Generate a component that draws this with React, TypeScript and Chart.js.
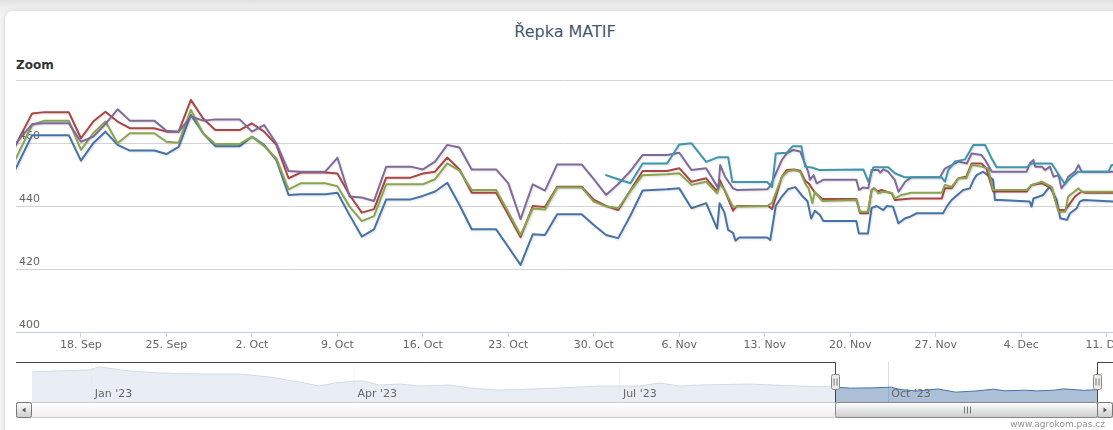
import React, { useEffect, useRef } from "react";
import { Chart, registerables } from "chart.js";

Chart.register(...registerables);

// x values are days counted from Monday 18 Sep 2023 (fractional = intraday)
const tradingDays = [-6, -5, -4, -3, -1, 0, 1, 2, 3, 4, 6, 7, 8, 9, 10, 11, 13, 14, 15, 16, 17, 18, 20, 21, 22, 23, 24, 25, 27, 28, 29, 30, 31, 32, 34, 35, 36, 37, 38, 39, 41, 42, 43, 44, 45, 46, 48, 49, 50];

const blueDaily = [446.7, 454.6, 462.5, 462.5, 462.5, 454.4, 459.9, 463.6, 459.4, 457.6, 457.6, 456.5, 458.8, 468.9, 463.1, 459.0, 459.0, 462.0, 459.4, 454.6, 443.5, 443.7, 443.7, 444.2, 437.1, 430.3, 432.6, 442.1, 442.1, 443.2, 444.6, 447.4, 440.3, 432.6, 432.6, 427.0, 421.3, 431.0, 430.8, 437.4, 437.4, 434.0, 430.8, 429.8, 437.0, 444.9, 445.3, 445.6, 439.3];
const redDaily = [454.4, 461.9, 469.4, 469.8, 469.8, 461.5, 466.8, 469.9, 466.8, 464.7, 464.7, 463.6, 463.6, 473.7, 467.8, 464.1, 464.1, 466.2, 463.6, 459.4, 448.8, 450.6, 450.6, 450.3, 443.5, 437.9, 439.0, 449.0, 449.0, 450.3, 450.9, 455.4, 451.6, 444.2, 444.2, 437.2, 430.1, 440.0, 439.7, 446.1, 446.1, 442.0, 440.0, 438.7, 445.0, 451.1, 451.1, 452.0, 447.7];
const greenDaily = [449.7, 457.7, 465.7, 467.1, 467.1, 457.8, 463.1, 466.8, 459.9, 463.1, 463.1, 460.4, 460.1, 470.5, 463.1, 459.7, 459.7, 462.0, 459.0, 455.1, 445.3, 447.2, 447.2, 446.3, 439.8, 435.2, 436.8, 446.9, 446.9, 446.9, 448.5, 453.5, 451.2, 445.1, 445.1, 438.0, 430.8, 439.2, 438.9, 445.9, 445.9, 441.4, 439.9, 439.3, 444.8, 449.8, 450.1, 450.4, 446.7];
const purpleDaily = [456.8, 461.4, 466.0, 466.3, 466.3, 460.4, 462.0, 466.0, 470.7, 467.1, 467.1, 463.9, 463.6, 468.4, 467.1, 467.5, 467.5, 463.6, 465.7, 459.9, 451.1, 450.9, 450.9, 455.3, 443.0, 442.7, 441.6, 452.5, 452.5, 451.6, 454.1, 459.4, 458.6, 451.6, 451.6, 447.2, 435.8, 446.9, 444.9, 453.2, 453.2, 448.5, 443.5, 447.0, 451.1, 456.2, 456.2, 456.9, 451.4];

const blueLateDays = [51.2, 52.1, 52.3, 52.7, 53.0, 53.4, 53.6, 53.9, 56.2, 56.45, 56.9, 57.4, 57.9, 58.5, 59.0, 59.5, 59.8, 60.1, 60.5, 60.8, 63.5, 63.7, 64.45, 64.75, 65.15, 65.7, 66.0, 66.5, 66.95, 67.5, 67.9, 68.45, 70.6, 70.9, 71.3, 72.25, 72.8, 73.1, 73.35, 73.9, 74.7, 74.85, 75.3, 77.7, 77.85, 78.0, 78.8, 79.35, 79.9, 80.2, 80.75, 81.0, 81.55, 81.8, 82.1, 84.55];
const blueLate = [440.9, 432.8, 440.9, 437.9, 432.4, 431.5, 429.0, 430.0, 430.0, 429.2, 440.0, 443.0, 445.3, 446.0, 443.5, 441.5, 436.0, 438.5, 437.2, 435.2, 435.2, 431.3, 431.3, 439.3, 440.0, 438.7, 440.0, 439.8, 434.5, 436.1, 436.6, 437.7, 437.7, 439.8, 441.9, 445.1, 445.6, 448.3, 449.8, 450.9, 448.3, 441.9, 441.9, 441.4, 439.8, 442.4, 443.5, 446.2, 441.9, 436.1, 435.6, 437.7, 439.3, 441.4, 441.9, 441.4];

const redLateDays = [51.2, 52.1, 52.3, 52.7, 53.4, 53.7, 56.3, 56.6, 57.4, 57.8, 58.4, 58.9, 59.3, 59.6, 60.1, 60.7, 63.5, 63.8, 64.45, 64.75, 64.9, 65.3, 65.55, 66.4, 66.65, 68.0, 70.5, 70.75, 71.3, 71.85, 72.5, 72.95, 73.75, 74.15, 74.7, 77.45, 77.85, 78.7, 79.5, 80.05, 80.6, 81.4, 81.95, 82.25, 84.55];
const redLate = [448.8, 444.6, 448.3, 445.1, 438.5, 440.0, 440.0, 439.0, 449.3, 451.4, 451.6, 451.2, 448.0, 447.2, 444.3, 442.2, 442.2, 437.7, 437.7, 445.1, 445.6, 444.6, 445.1, 444.0, 441.9, 442.4, 442.4, 445.6, 445.6, 448.8, 449.3, 453.5, 453.5, 451.9, 444.6, 444.6, 446.7, 447.2, 445.6, 438.7, 438.7, 443.0, 444.6, 444.2, 444.2];

const greenLateDays = [51.2, 52.1, 52.3, 52.7, 53.4, 56.2, 56.6, 57.4, 57.9, 58.4, 58.9, 59.3, 59.6, 59.9, 60.1, 60.7, 63.5, 63.8, 64.45, 64.75, 65.0, 65.3, 65.7, 66.4, 66.65, 67.2, 68.0, 70.5, 70.75, 71.3, 71.85, 72.5, 72.95, 73.75, 74.3, 74.7, 77.45, 77.85, 78.7, 79.5, 80.05, 80.6, 80.85, 81.7, 81.95, 84.55];
const greenLate = [447.7, 444.0, 447.2, 445.1, 439.8, 440.0, 441.0, 449.3, 451.0, 451.4, 450.9, 447.2, 445.5, 440.9, 444.5, 441.6, 441.9, 438.2, 438.2, 445.1, 445.6, 444.0, 444.5, 444.2, 442.4, 443.5, 444.2, 444.2, 446.7, 446.1, 448.8, 448.8, 453.0, 452.5, 451.9, 445.1, 445.1, 446.7, 447.7, 446.1, 438.2, 438.2, 443.0, 445.6, 444.5, 444.5];

const purpleLateDays = [51.2, 52.2, 52.35, 52.75, 53.4, 53.7, 56.2, 56.45, 57.4, 57.8, 58.35, 58.9, 59.55, 59.7, 60.0, 60.25, 60.8, 63.5, 63.72, 64.07, 64.48, 64.75, 65.3, 65.45, 65.7, 66.1, 66.65, 66.95, 67.5, 68.0, 70.35, 70.75, 71.3, 71.85, 72.55, 72.95, 73.75, 74.05, 74.6, 77.45, 77.7, 78.0, 78.15, 78.7, 78.95, 79.35, 79.65, 80.05, 80.3, 80.6, 80.85, 81.4, 81.7, 81.95, 84.55];
const purpleLate = [452.0, 445.6, 453.0, 449.3, 445.6, 445.1, 445.3, 446.3, 454.6, 456.7, 457.8, 457.3, 450.9, 448.3, 449.8, 447.2, 448.3, 448.3, 445.1, 445.9, 445.6, 451.4, 451.4, 450.6, 451.6, 450.9, 448.3, 444.5, 447.7, 449.1, 449.1, 451.9, 453.0, 454.1, 453.5, 456.7, 456.2, 454.6, 450.9, 450.9, 453.5, 454.6, 452.5, 452.5, 451.4, 452.5, 449.3, 449.8, 445.6, 447.2, 449.3, 450.9, 453.0, 450.9, 450.9];

const cyanDays = [43, 44, 45, 46, 48, 49, 50, 51.2, 52.2, 53.0, 53.35, 56.2, 56.6, 56.9, 57.8, 58.3, 59.0, 59.3, 59.85, 60.5, 64.07, 64.48, 64.89, 66.12, 66.66, 67.48, 70.49, 70.76, 71.03, 71.58, 72.4, 73.08, 74.04, 74.58, 74.99, 77.45, 77.86, 79.5, 80.18, 80.59, 81.13, 81.68, 84.14, 84.41, 84.55];
const cyanPrices = [449.8, 448.5, 447.2, 453.5, 453.5, 459.5, 459.9, 454.0, 455.5, 455.5, 447.6, 447.6, 446.0, 456.7, 456.9, 459.0, 459.0, 452.5, 452.2, 451.4, 451.6, 447.7, 452.3, 452.3, 450.4, 449.1, 449.1, 447.7, 451.4, 454.1, 454.8, 459.4, 459.4, 455.1, 452.3, 452.3, 453.5, 453.5, 449.3, 447.0, 449.3, 450.9, 450.9, 453.0, 453.0];

// navigator (one year of the first series)
const navDays = [-280.5, -271.2, -260.9, -257.5, -252.4, -247.2, -236.9, -223.2, -209.5, -199.2, -188.9, -182.0, -176.9, -170.0, -166.6, -161.5, -154.6, -147.8, -137.5, -130.6, -120.3, -110.0, -99.7, -86.0, -72.2, -65.4, -58.5, -51.7, -34.5, -17.4, -5.3, 0, 7, 14, 17, 23, 30, 36, 43, 49, 53, 60, 64, 70, 73, 77, 80, 84.5];
const navPrices = [587.8, 596.1, 604.4, 629.3, 612.7, 596.1, 579.5, 571.2, 571.2, 546.3, 504.8, 471.6, 496.5, 513.1, 513.1, 479.9, 488.2, 471.6, 479.9, 455.0, 438.4, 446.7, 455.0, 471.6, 471.6, 496.5, 471.6, 479.9, 488.2, 471.6, 463.3, 454.4, 456.5, 462.0, 443.5, 430.3, 447.4, 421.3, 430.8, 445.6, 432.4, 437.2, 431.3, 437.7, 448.3, 441.4, 436.1, 441.4];

const tickDays = [0, 7, 14, 21, 28, 35, 42, 49, 56, 63, 70, 77, 84];
const tickLabels = ["18. Sep", "25. Sep", "2. Oct", "9. Oct", "16. Oct", "23. Oct", "30. Oct", "6. Nov", "13. Nov", "20. Nov", "27. Nov", "4. Dec", "11. Dec"];
const yTicks = [400, 420, 440, 460, 480];
const navTickDays = [-260, -170, -79, 13];
const navTickLabels = ["Jan '23", "Apr '23", "Jul '23", "Oct '23"];

const viewMin = -5.32;
const viewMax = 84.52;
const navMin = -280.5;
const navMax = 84.52;

const FONT = '"DejaVu Sans", Verdana, sans-serif';

function toPoints(days: number[], values: number[]) {
  return days.map((d, i) => ({ x: d, y: values[i] }));
}

const shadowPlugin = {
  id: "lineShadow",
  beforeDatasetDraw(chart: any) {
    const c = chart.ctx;
    c.save();
    c.shadowColor = "rgba(0,0,0,0.12)";
    c.shadowBlur = 2;
    c.shadowOffsetX = 1;
    c.shadowOffsetY = 1;
  },
  afterDatasetDraw(chart: any) {
    chart.ctx.restore();
  },
};

function roundRect(ctx: CanvasRenderingContext2D, x: number, y: number, w: number, h: number, r: number) {
  ctx.beginPath();
  ctx.moveTo(x + r, y);
  ctx.lineTo(x + w - r, y);
  ctx.quadraticCurveTo(x + w, y, x + w, y + r);
  ctx.lineTo(x + w, y + h - r);
  ctx.quadraticCurveTo(x + w, y + h, x + w - r, y + h);
  ctx.lineTo(x + r, y + h);
  ctx.quadraticCurveTo(x, y + h, x, y + h - r);
  ctx.lineTo(x, y + r);
  ctx.quadraticCurveTo(x, y, x + r, y);
  ctx.closePath();
}

const navigatorPlugin = {
  id: "navigatorExtras",
  afterDatasetsDraw(chart: any) {
    const { ctx, chartArea: a, scales } = chart;
    const x0 = scales.x.getPixelForValue(viewMin);
    const x1 = scales.x.getPixelForValue(viewMax);
    ctx.save();
    ctx.fillStyle = "rgba(255,255,255,0.75)";
    ctx.fillRect(a.left, a.top, x0 - a.left, a.bottom - a.top);
    if (a.right > x1) ctx.fillRect(x1, a.top, a.right - x1, a.bottom - a.top);
    ctx.restore();
  },
  afterDraw(chart: any) {
    const { ctx, chartArea: a, scales } = chart;
    const x0 = Math.round(scales.x.getPixelForValue(viewMin)) + 0.5;
    const x1 = Math.round(scales.x.getPixelForValue(viewMax)) + 0.5;
    const btn = 16;
    const outerL = a.left - btn;
    const outerR = a.right + btn;
    const sbTop = a.bottom + 0.5;
    const sbH = 15;
    ctx.save();
    // track
    let g = ctx.createLinearGradient(0, sbTop, 0, sbTop + sbH);
    g.addColorStop(0, "#FFFFFF");
    g.addColorStop(1, "#EEEEEE");
    ctx.fillStyle = g;
    ctx.strokeStyle = "#CCCCCC";
    ctx.lineWidth = 1;
    ctx.fillRect(outerL + 0.5, sbTop, outerR - outerL - 1, sbH);
    ctx.strokeRect(outerL + 0.5, sbTop, outerR - outerL - 1, sbH);
    // thumb
    g = ctx.createLinearGradient(0, sbTop, 0, sbTop + sbH);
    g.addColorStop(0, "#FFFFFF");
    g.addColorStop(1, "#CCCCCC");
    ctx.fillStyle = g;
    ctx.strokeStyle = "#888888";
    roundRect(ctx, x0, sbTop, x1 - x0, sbH, 2);
    ctx.fill();
    ctx.stroke();
    const mid = Math.round((x0 + x1) / 2) + 0.5;
    ctx.strokeStyle = "#777777";
    ctx.beginPath();
    for (const dx of [-3, 0, 3]) {
      ctx.moveTo(mid + dx, sbTop + 4);
      ctx.lineTo(mid + dx, sbTop + sbH - 4);
    }
    ctx.stroke();
    // buttons
    for (const side of [0, 1]) {
      const bx = side === 0 ? outerL + 0.5 : a.right + 0.5;
      g = ctx.createLinearGradient(0, sbTop, 0, sbTop + sbH);
      g.addColorStop(0, "#FFFFFF");
      g.addColorStop(1, "#CCCCCC");
      ctx.fillStyle = g;
      ctx.strokeStyle = "#777777";
      roundRect(ctx, bx, sbTop, btn - 1, sbH, 2);
      ctx.fill();
      ctx.stroke();
      const cx = bx + (btn - 1) / 2;
      const cy = sbTop + sbH / 2;
      ctx.fillStyle = "#555555";
      ctx.beginPath();
      if (side === 0) {
        ctx.moveTo(cx - 2, cy);
        ctx.lineTo(cx + 1.5, cy - 2.5);
        ctx.lineTo(cx + 1.5, cy + 2.5);
      } else {
        ctx.moveTo(cx + 2, cy);
        ctx.lineTo(cx - 1.5, cy - 2.5);
        ctx.lineTo(cx - 1.5, cy + 2.5);
      }
      ctx.closePath();
      ctx.fill();
    }
    // outline
    const top = Math.round(a.top) + 0.5;
    ctx.strokeStyle = "#444444";
    ctx.lineWidth = 1;
    ctx.beginPath();
    ctx.moveTo(outerL, top);
    ctx.lineTo(x0, top);
    ctx.lineTo(x0, sbTop);
    ctx.moveTo(x1, sbTop);
    ctx.lineTo(x1, top);
    ctx.lineTo(outerR, top);
    ctx.stroke();
    // handles
    const hy = Math.round((a.top + a.bottom) / 2 - 8) + 0.5;
    for (const hx of [x0, x1]) {
      ctx.fillStyle = "#EDEAEA";
      ctx.strokeStyle = "#888888";
      roundRect(ctx, hx - 4, hy, 8, 15, 2);
      ctx.fill();
      ctx.stroke();
      ctx.strokeStyle = "#777777";
      ctx.beginPath();
      ctx.moveTo(hx - 1.5, hy + 4);
      ctx.lineTo(hx - 1.5, hy + 11);
      ctx.moveTo(hx + 1.5, hy + 4);
      ctx.lineTo(hx + 1.5, hy + 11);
      ctx.stroke();
    }
    ctx.restore();
  },
};

export default function App() {
  const mainRef = useRef<HTMLCanvasElement>(null);
  const navRef = useRef<HTMLCanvasElement>(null);

  useEffect(() => {
    const line = (label: string, color: string, data: any[], order: number) => ({
      label,
      data,
      borderColor: color,
      backgroundColor: color,
      borderWidth: 2,
      pointRadius: 0,
      tension: 0,
      borderJoinStyle: "round" as const,
      borderCapStyle: "round" as const,
      order,
    });

    const main = new Chart(mainRef.current as HTMLCanvasElement, {
      type: "line",
      data: {
        datasets: [
          line("Series 1", "#4572A7", [...toPoints(tradingDays, blueDaily), ...toPoints(blueLateDays, blueLate)], 4),
          line("Series 2", "#AA4643", [...toPoints(tradingDays, redDaily), ...toPoints(redLateDays, redLate)], 3),
          line("Series 3", "#89A54E", [...toPoints(tradingDays, greenDaily), ...toPoints(greenLateDays, greenLate)], 2),
          line("Series 4", "#80699B", [...toPoints(tradingDays, purpleDaily), ...toPoints(purpleLateDays, purpleLate)], 1),
          line("Series 5", "#3D96AE", toPoints(cyanDays, cyanPrices), 0),
        ],
      },
      options: {
        animation: false,
        responsive: false,
        events: [],
        layout: { padding: { left: 16, top: 20, right: 47, bottom: 0 } },
        plugins: { legend: { display: false }, tooltip: { enabled: false }, title: { display: false } },
        scales: {
          x: {
            type: "linear",
            min: viewMin,
            max: viewMax,
            afterBuildTicks: (s: any) => {
              s.ticks = tickDays.map((v) => ({ value: v }));
            },
            afterFit: (s: any) => {
              s.height = 28;
            },
            ticks: {
              autoSkip: false,
              maxRotation: 0,
              padding: 2,
              color: "#666666",
              font: { family: FONT, size: 11 },
              callback: (v: any) => {
                const i = tickDays.indexOf(Number(v));
                return i >= 0 ? tickLabels[i] : "";
              },
            },
            grid: { drawOnChartArea: false, drawTicks: true, tickLength: 5, color: "#C0D0E0" },
            border: { display: true, color: "#C0D0E0" },
          },
          y: {
            type: "linear",
            min: 400,
            max: 480,
            afterBuildTicks: (s: any) => {
              s.ticks = yTicks.map((v) => ({ value: v }));
            },
            afterFit: (s: any) => {
              s.width = 0;
            },
            ticks: {
              mirror: true,
              padding: 3,
              labelOffset: -7,
              color: "#666666",
              font: { family: FONT, size: 11 },
              callback: (v: any) => (Number(v) === 480 ? "" : String(v)),
            },
            grid: {
              drawTicks: false,
              color: (c: any) => (c.tick && c.tick.value === 400 ? "rgba(0,0,0,0)" : "#D4D4D4"),
            },
            border: { display: false },
          },
        },
      },
      plugins: [shadowPlugin],
    } as any);

    const nav = new Chart(navRef.current as HTMLCanvasElement, {
      type: "line",
      data: {
        datasets: [
          {
            label: "Navigator",
            data: toPoints(navDays, navPrices),
            borderColor: "#4572A7",
            backgroundColor: "rgba(69,114,167,0.45)",
            borderWidth: 1,
            pointRadius: 0,
            tension: 0,
            fill: "start",
          },
        ],
      },
      options: {
        animation: false,
        responsive: false,
        events: [],
        layout: { padding: { left: 32, top: 7, right: 63, bottom: 28 } },
        plugins: { legend: { display: false }, tooltip: { enabled: false }, title: { display: false } },
        scales: {
          x: {
            type: "linear",
            min: navMin,
            max: navMax,
            afterBuildTicks: (s: any) => {
              s.ticks = navTickDays.map((v) => ({ value: v }));
            },
            afterFit: (s: any) => {
              s.height = 0;
            },
            ticks: {
              z: 1,
              autoSkip: false,
              maxRotation: 0,
              mirror: true,
              align: "start",
              labelOffset: 3,
              padding: 1.5,
              color: "#666666",
              font: { family: FONT, size: 11 },
              callback: (v: any) => {
                const i = navTickDays.indexOf(Number(v));
                return i >= 0 ? navTickLabels[i] : "";
              },
            },
            grid: { drawTicks: false, color: "#DDDDDD" },
            border: { display: false },
          },
          y: { display: false, min: 340, max: 670 },
        },
      },
      plugins: [navigatorPlugin],
    } as any);

    return () => {
      main.destroy();
      nav.destroy();
    };
  }, []);

  return (
    <div
      style={{
        position: "fixed",
        left: 0,
        top: 0,
        width: 1113,
        height: 430,
        overflow: "hidden",
        background: "linear-gradient(#e2e2e2, #f3f3f3 11px, #f3f3f3)",
      }}
    >
      <div
        style={{
          position: "absolute",
          left: 5,
          top: 11,
          width: 1140,
          height: 440,
          background: "#ffffff",
          borderRadius: 8,
          boxShadow: "0 0 4px rgba(0,0,0,0.16)",
        }}
      />
      <div
        style={{
          position: "absolute",
          left: 0,
          top: 22,
          width: 1130,
          textAlign: "center",
          fontFamily: FONT,
          fontSize: 16,
          lineHeight: "20px",
          color: "#3E576F",
        }}
      >
        Řepka MATIF
      </div>
      <div
        style={{
          position: "absolute",
          left: 16,
          top: 58,
          fontFamily: FONT,
          fontSize: 12,
          fontWeight: "bold",
          lineHeight: "14px",
          color: "#333333",
        }}
      >
        Zoom
      </div>
      <canvas ref={mainRef} width={1160} height={300} style={{ position: "absolute", left: 0, top: 60 }} />
      <canvas ref={navRef} width={1160} height={75} style={{ position: "absolute", left: 0, top: 355 }} />
      <div
        style={{
          position: "absolute",
          right: 8,
          top: 419,
          fontFamily: FONT,
          fontSize: 9,
          lineHeight: "11px",
          color: "#909090",
        }}
      >
        www.agrokom.pas.cz
      </div>
    </div>
  );
}
